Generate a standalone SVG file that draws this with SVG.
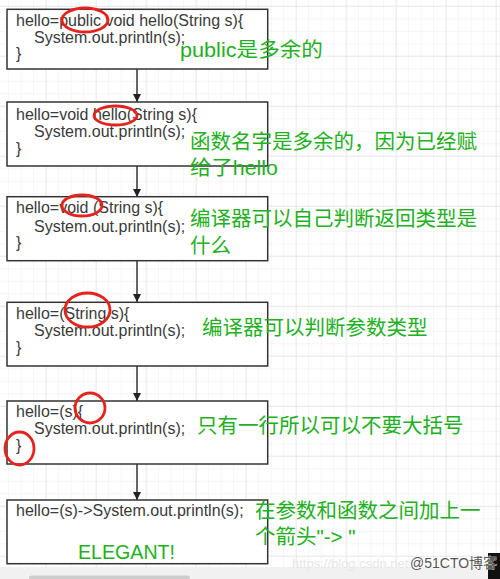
<svg xmlns="http://www.w3.org/2000/svg" width="500" height="579" viewBox="0 0 500 579">
<defs>
<pattern id="minor" x="8.2" y="5.8" width="12.5" height="12.5" patternUnits="userSpaceOnUse">
<path d="M0 0H12.5M0 0V12.5" fill="none" stroke="#ececec" stroke-width="1"/>
</pattern>
<pattern id="major" x="45.7" y="5.7" width="50" height="50" patternUnits="userSpaceOnUse">
<path d="M0 0H50M0 0V50" fill="none" stroke="#dedede" stroke-width="1"/>
</pattern>
<marker id="arr" viewBox="0 0 10 10" refX="10" refY="5" markerWidth="8" markerHeight="8" markerUnits="userSpaceOnUse" orient="auto">
<path d="M0 0L10 5L0 10Z" fill="#222"/>
</marker>
<style>
.box{fill:#fff;stroke:#333;stroke-width:1.5}
.code{font-family:"Liberation Sans","Noto Sans CJK SC",sans-serif;font-size:16px;fill:#3a3a3a}
.note{font-family:"Liberation Sans","Noto Sans CJK SC",sans-serif;font-size:20.5px;fill:#22b022}
.ring{fill:none;stroke:#e5231e;stroke-width:2.8}
.edge{stroke:#333;stroke-width:1.5;fill:none;marker-end:url(#arr)}
</style>
</defs>
<rect width="500" height="579" fill="#fff"/>
<rect width="500" height="579" fill="url(#minor)"/>
<rect width="500" height="579" fill="url(#major)"/>

<g id="connectors">
<path class="edge" d="M137 69V102"/>
<path class="edge" d="M137 166V197"/>
<path class="edge" d="M137 261V302"/>
<path class="edge" d="M137 366V401"/>
<path class="edge" d="M137 464V500"/>
</g>

<g id="node1">
<rect class="box" x="7" y="9.3" width="260.7" height="59.7"/>
<text class="code" x="16" y="26">hello=public void hello(String s){</text>
<text class="code" x="34" y="42.5">System.out.println(s);</text>
<text class="code" x="16" y="59">}</text>
<ellipse class="ring" cx="85" cy="20" rx="23" ry="12"/>
<text class="note" x="180" y="57" textLength="143" lengthAdjust="spacingAndGlyphs">public是多余的</text>
</g>

<g id="node2">
<rect class="box" x="7" y="102" width="260.7" height="64"/>
<text class="code" x="16" y="120">hello=void hello(String s){</text>
<text class="code" x="34" y="137">System.out.println(s);</text>
<text class="code" x="16" y="154">}</text>
<ellipse class="ring" cx="115.5" cy="115.5" rx="21.5" ry="9.5"/>
<text class="note" x="190" y="149">函数名字是多余的，因为已经赋</text>
<text class="note" x="190" y="175" textLength="88" lengthAdjust="spacingAndGlyphs">给了hello</text>
</g>

<g id="node3">
<rect class="box" x="7" y="196.7" width="260.7" height="64"/>
<text class="code" x="16" y="213">hello=void (String s){</text>
<text class="code" x="34" y="231.5">System.out.println(s);</text>
<text class="code" x="16" y="248">}</text>
<ellipse class="ring" cx="82" cy="205.5" rx="20" ry="10.5"/>
<text class="note" x="190" y="226">编译器可以自己判断返回类型是</text>
<text class="note" x="190" y="253">什么</text>
</g>

<g id="node4">
<rect class="box" x="7" y="302.3" width="260.7" height="63.7"/>
<text class="code" x="16" y="318.5">hello=(String s){</text>
<text class="code" x="34" y="336">System.out.println(s);</text>
<text class="code" x="16" y="353">}</text>
<ellipse class="ring" cx="87.5" cy="310" rx="22.5" ry="17"/>
<text class="note" x="202" y="335">编译器可以判断参数类型</text>
</g>

<g id="node5">
<rect class="box" x="7" y="401" width="260.7" height="63"/>
<text class="code" x="16" y="417">hello=(s){</text>
<text class="code" x="34" y="434">System.out.println(s);</text>
<text class="code" x="16" y="451">}</text>
<ellipse class="ring" cx="90" cy="408" rx="15" ry="15"/>
<ellipse class="ring" cx="19.5" cy="448.5" rx="14.5" ry="16.5"/>
<text class="note" x="197" y="433">只有一行所以可以不要大括号</text>
</g>

<g id="node6">
<rect class="box" x="7" y="500" width="260.7" height="63.7"/>
<text class="code" x="16" y="515.5">hello=(s)-&gt;System.out.println(s);</text>
<text class="note" x="78" y="559" font-size="21" textLength="97" lengthAdjust="spacingAndGlyphs">ELEGANT!</text>
<text class="note" x="255" y="518">在参数和函数之间加上一</text>
<text class="note" x="255" y="544">个箭头"-&gt; "</text>
</g>

<rect x="0" y="567" width="500" height="12" fill="#f1f1f1"/>
<rect x="29" y="575.5" width="161" height="6" rx="3" fill="#cdcdcd"/>
<rect x="488" y="553" width="12" height="26" fill="#111"/>
<text x="292" y="568" font-family="Liberation Sans, sans-serif" font-size="13" fill="#e6e6e6">https://blog.csdn.net</text>
<text x="410" y="568" font-family="Liberation Sans, 'Noto Sans CJK SC', sans-serif" font-size="14" fill="#555" stroke="#fff" stroke-width="0.6" paint-order="stroke">@51CTO博客</text>
</svg>
